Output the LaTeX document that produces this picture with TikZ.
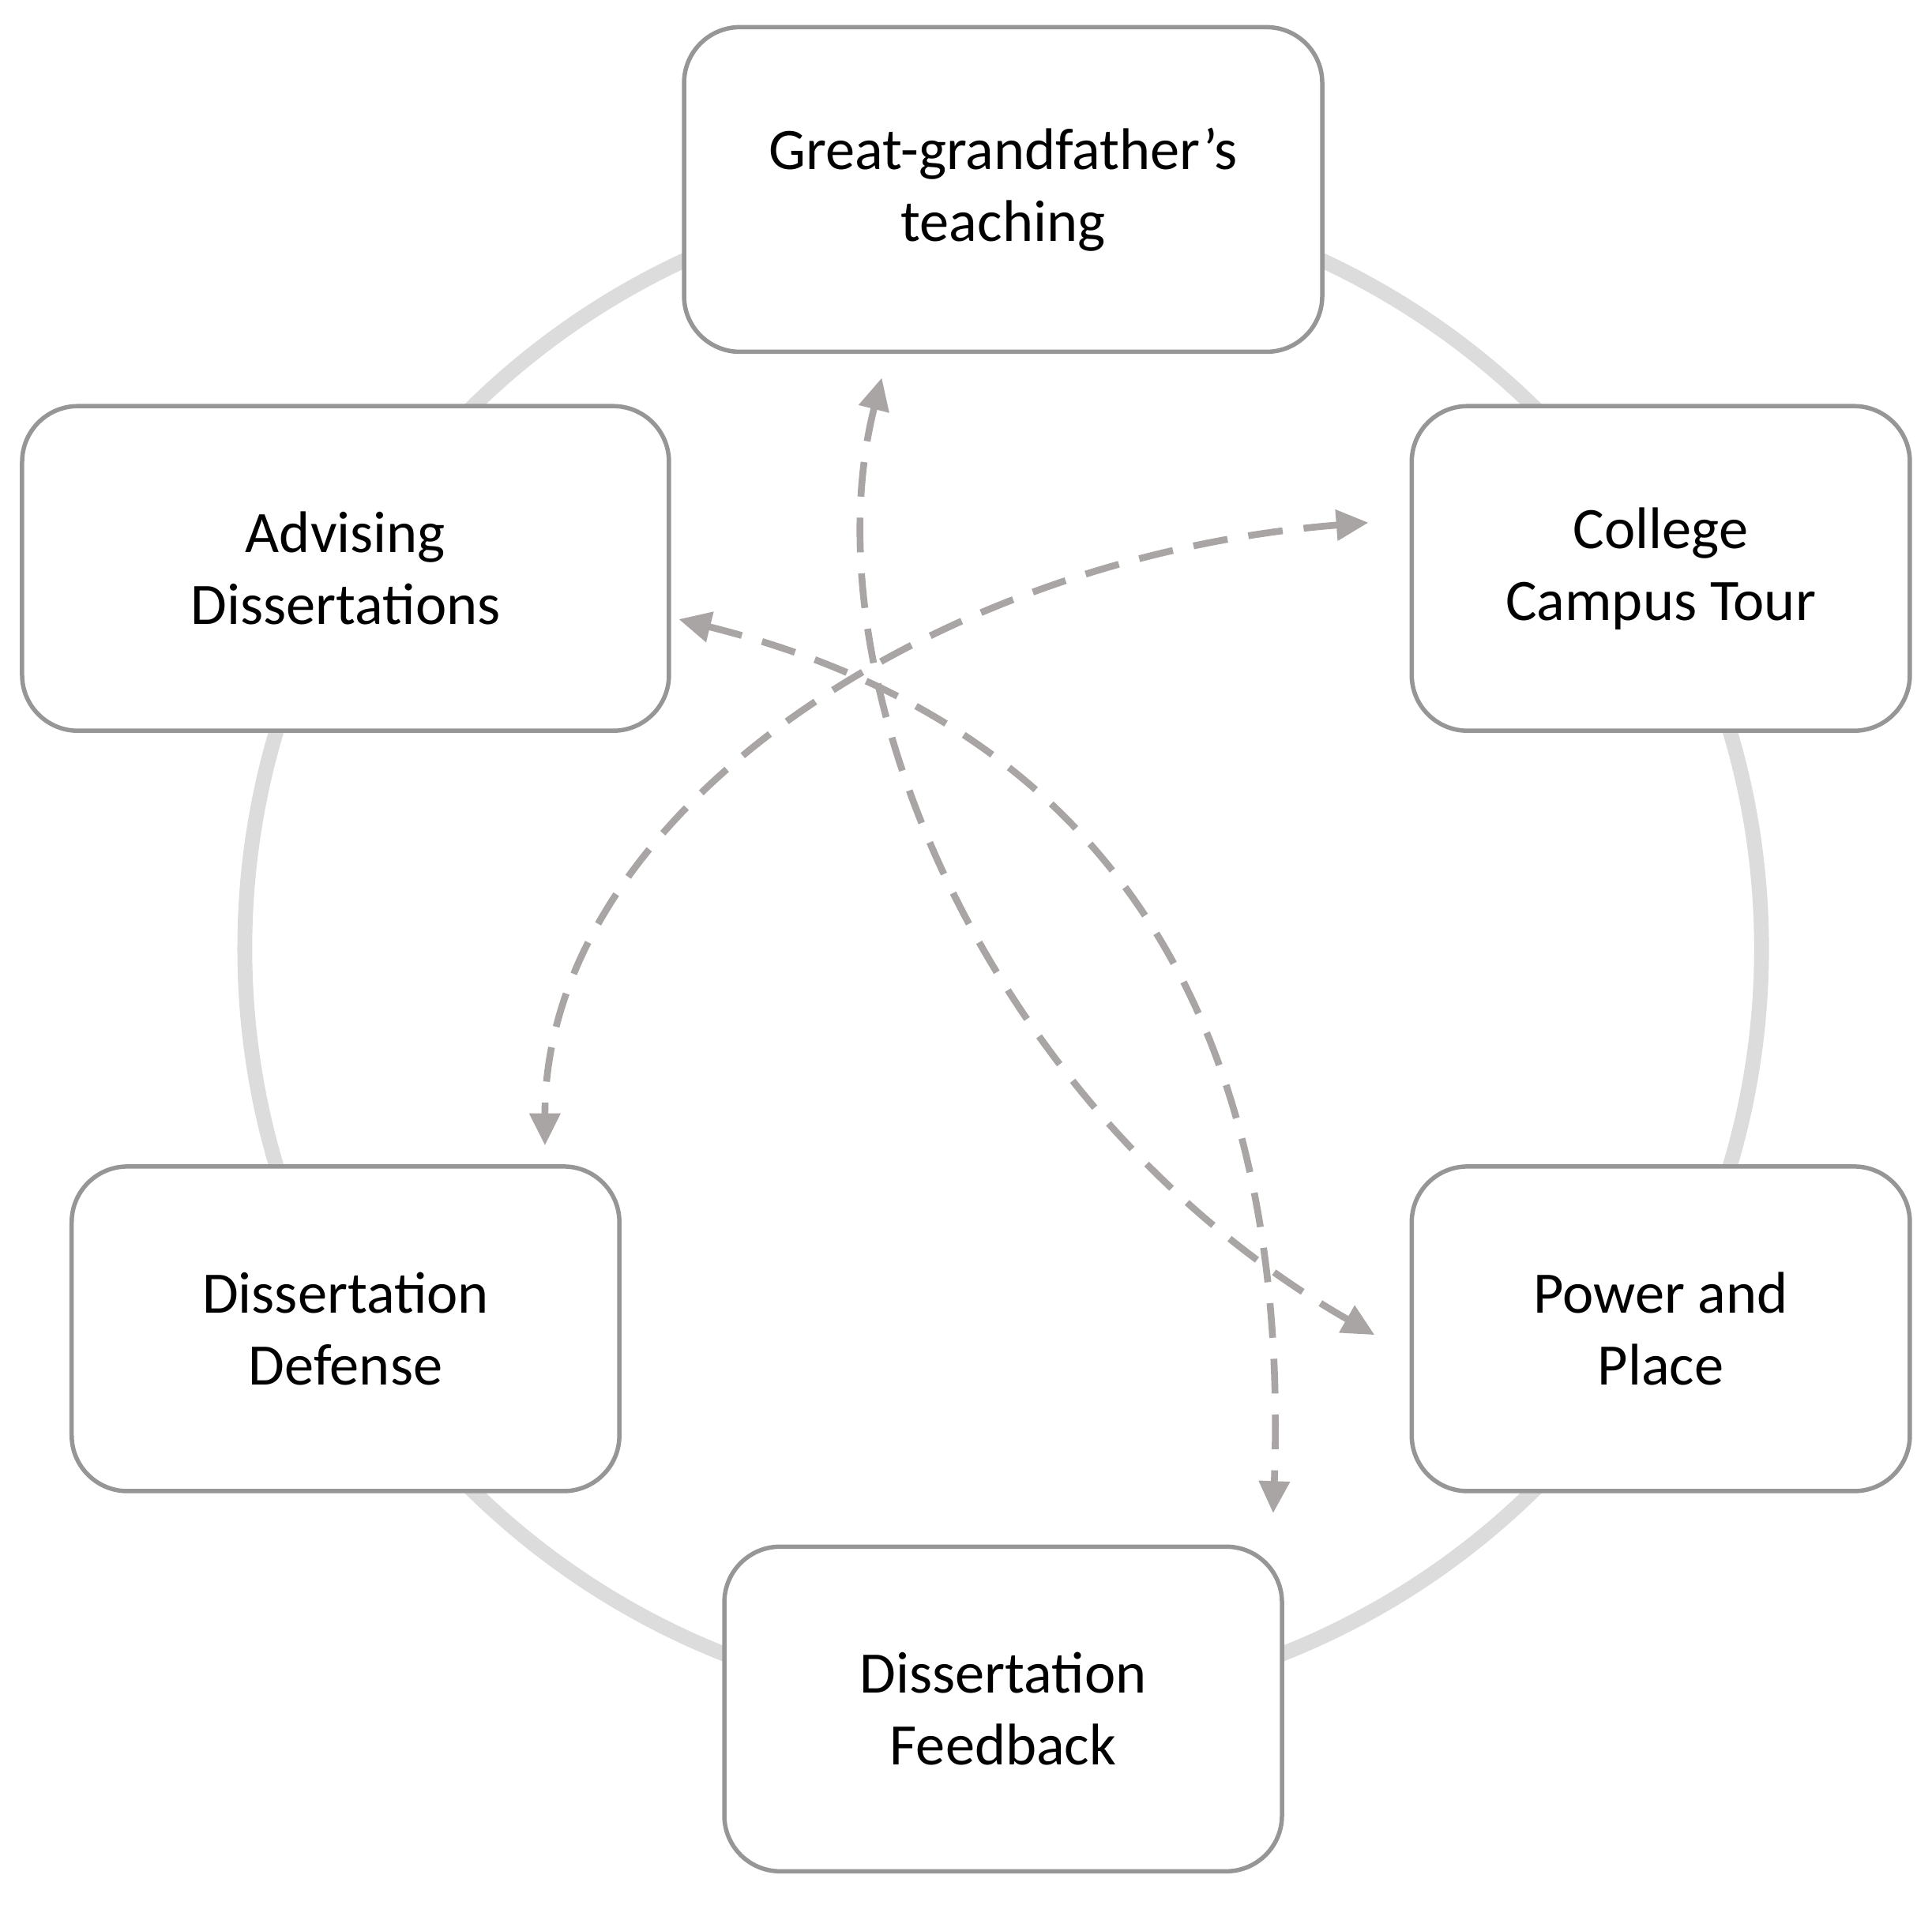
\documentclass[tikz,border=0pt]{standalone}
\usepackage{fontspec}
\setmainfont{Carlito}
\usetikzlibrary{arrows.meta}
\definecolor{ring}{RGB}{220,220,220}
\definecolor{boxline}{RGB}{150,150,150}
\definecolor{dash}{RGB}{170,165,165}
\begin{document}
\begin{tikzpicture}[x=0.01cm,y=-0.01cm,
  box/.style={draw=boxline,line width=0.035cm,fill=white,rounded corners=0.45cm,
    align=center,inner sep=0pt,font=\fontsize{13.5}{16.5}\selectfont,
    minimum height=2.62cm},
  link/.style={draw=dash,line width=0.055cm,dash pattern=on 0.28cm off 0.17cm,
    {Triangle[length=0.26cm,width=0.24cm]}-{Triangle[length=0.26cm,width=0.24cm]}}]
\useasboundingbox (0,0) rectangle (1560,1538);
\draw[ring,line width=0.12cm] (810,766) circle[radius=6.12cm];
\node[box,minimum width=5.15cm] (top) at (810,153) {Great-grandfather's\\teaching};
\node[box,minimum width=5.22cm] (adv) at (279,459) {Advising\\Dissertations};
\node[box,minimum width=4.02cm] (col) at (1341,459) {College\\Campus Tour};
\node[box,minimum width=4.42cm] (def) at (279,1073) {Dissertation\\Defense};
\node[box,minimum width=4.02cm] (pow) at (1341,1073) {Power and\\Place};
\node[box,minimum width=4.50cm] (fee) at (810,1380) {Dissertation\\Feedback};
\coordinate (t1) at (712,305);
\coordinate (p1) at (1110,1078);
\coordinate (a1) at (548,500);
\coordinate (f1) at (1028,1222);
\coordinate (c1) at (1105,422);
\coordinate (d1) at (440,925);
\draw[link] (t1) .. controls (650,550) and (800,900) .. (p1);
\draw[link] (a1) .. controls (950,600) and (1040,900) .. (f1);
\draw[link] (c1) .. controls (750,450) and (440,660) .. (d1);
\end{tikzpicture}
\end{document}
